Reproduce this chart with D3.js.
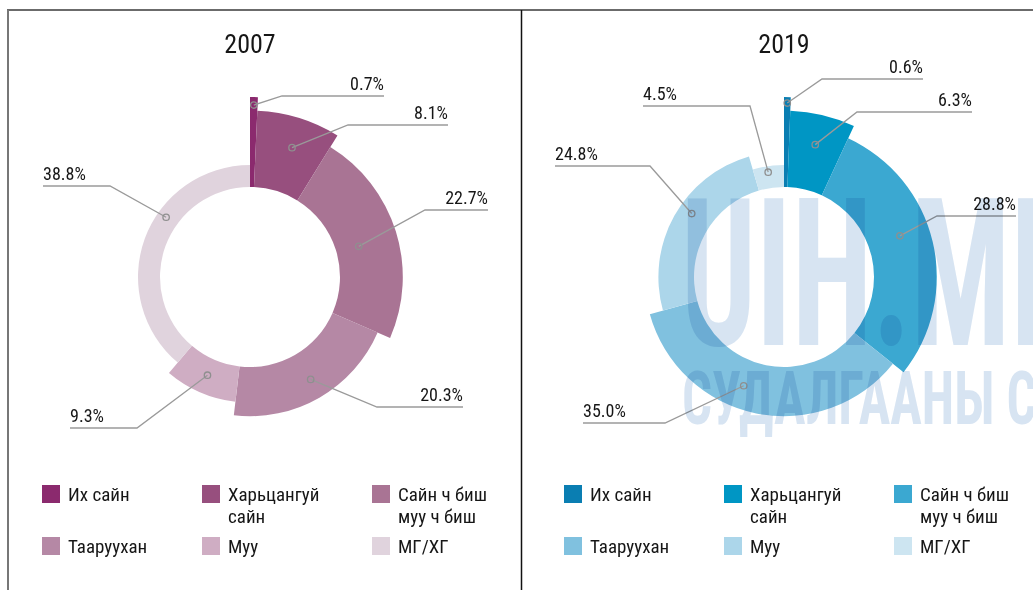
<!DOCTYPE html>
<html>
<head>
<meta charset="utf-8">
<script src="https://cdn.jsdelivr.net/npm/d3@7"></script>
<style>
  html, body { margin: 0; padding: 0; background: #fff; }
  svg { display: block; }
  text { font-family: "Liberation Sans Narrow", "Roboto Condensed", "Arial Narrow", "Liberation Sans", sans-serif; fill: #161616; }
</style>
</head>
<body>
<svg id="chart" width="1033" height="590"></svg>
<script>
// ---- data ----
const categories = ["Их сайн", "Харьцангуй сайн", "Сайн ч биш муу ч биш", "Таарууxан", "Муу", "МГ/ХГ"];
const legendLines = [["Их сайн"], ["Харьцангуй", "сайн"], ["Сайн ч биш", "муу ч биш"], ["Таарууxан"], ["Муу"], ["МГ/ХГ"]];
const years = ["2007", "2019"];
const values2007 = [0.7, 8.1, 22.7, 20.3, 9.3, 38.8];
const values2019 = [0.6, 6.3, 28.8, 35.0, 24.8, 4.5];
const labels2007 = ["0.7%", "8.1%", "22.7%", "20.3%", "9.3%", "38.8%"];
const labels2019 = ["0.6%", "6.3%", "28.8%", "35.0%", "24.8%", "4.5%"];
const watermarkLines = ["UIH.MN", "СУДАЛГААНЫ СЕКТОР"];

// ---- styles ----
const colors2007 = ["#8b2a6e", "#974f7e", "#a97494", "#b588a5", "#cfadc3", "#e0d3dd"];
const colors2019 = ["#0a7eb2", "#0096c4", "#3ba8d1", "#80c1df", "#acd6ea", "#cde5f1"];

// ---- label layout (relative to donut centre) ----
const anchorR2007 = [172, 136, 113, 119, 107, 103];
const anchorT2007 = [0.5, 0.53, 0.52, 0.49, 0.5, 0.61];
const elbow2007 = [[32, -181], [98, -152], [175, -67], [127, 130], [-113, 151], [-140, -91]];
const lineEnd2007 = [134, 198, 238, 213, -180, -207];

const anchorR2019 = [174, 136, 123, 116, 112, 106];
const anchorT2019 = [0.5, 0.49, 0.44, 0.57, 0.56, 0.47];
const elbow2019 = [[38, -198], [73, -165], [153, -61], [-119, 146], [-134, -111], [-34, -171]];
const lineEnd2019 = [139, 188, 232, -201, -229, -141];

const svg = d3.select("#chart");

// frame
svg.append("line").attr("x1", 7).attr("x2", 1033).attr("y1", 10).attr("y2", 10)
  .attr("stroke", "#3a3a3a").attr("stroke-width", 1.5);
svg.append("line").attr("x1", 8).attr("x2", 8).attr("y1", 10).attr("y2", 590)
  .attr("stroke", "#777").attr("stroke-width", 2);
svg.append("line").attr("x1", 521.5).attr("x2", 521.5).attr("y1", 10).attr("y2", 590)
  .attr("stroke", "#111").attr("stroke-width", 1.5);

const panels = [
  { year: years[0], values: values2007, labels: labels2007, colors: colors2007, cx: 250, cy: 277, x0: 0,
    anchorR: anchorR2007, anchorT: anchorT2007, elbow: elbow2007, lineEnd: lineEnd2007 },
  { year: years[1], values: values2019, labels: labels2019, colors: colors2019, cx: 784, cy: 277, x0: 522,
    anchorR: anchorR2019, anchorT: anchorT2019, elbow: elbow2019, lineEnd: lineEnd2019 }
];

const innerR = 90;
const outerScale = d3.scaleLinear().domain([0, categories.length - 1]).range([180, 112]);
const pie = d3.pie().sort(null).value(d => d).startAngle(0).endAngle(2 * Math.PI);

panels.forEach(p => {
  const g = svg.append("g").attr("transform", `translate(${p.cx},${p.cy})`);
  const arcs = pie(p.values);
  const arc = d3.arc().innerRadius(innerR).outerRadius((d) => outerScale(d.index));

  g.selectAll("path.slice").data(arcs).enter().append("path")
    .attr("class", "slice")
    .attr("d", arc)
    .attr("fill", (d, i) => p.colors[i]);

  // title
  svg.append("text").attr("x", p.cx).attr("y", 53).attr("text-anchor", "middle")
    .style("font-size", "26px").text(p.year);

  // leaders + labels
  arcs.forEach((d, i) => {
    const a = d.startAngle + (d.endAngle - d.startAngle) * p.anchorT[i];
    const r = p.anchorR[i];
    const ax = r * Math.sin(a), ay = -r * Math.cos(a);
    const [ex, ey] = p.elbow[i];
    const endX = p.lineEnd[i];
    g.append("polyline")
      .attr("points", `${ax},${ay} ${ex},${ey} ${endX},${ey}`)
      .attr("fill", "none").attr("stroke", "#9a9a9a").attr("stroke-width", 1.3);
    g.append("circle").attr("cx", ax).attr("cy", ay).attr("r", 3.2)
      .attr("fill", "none").attr("stroke", "#8f8f8f").attr("stroke-width", 1.3);
    const right = endX > 0;
    g.append("text").attr("x", endX).attr("y", ey - 6)
      .attr("text-anchor", right ? "end" : "start")
      .style("font-size", "18px").text(p.labels[i]);
  });

  // legend
  const colX = [42, 202, 372];
  const rowY = [485, 537];
  categories.forEach((c, i) => {
    const x = p.x0 + colX[i % 3], y = rowY[Math.floor(i / 3)];
    svg.append("rect").attr("x", x).attr("y", y).attr("width", 18).attr("height", 18)
      .attr("fill", p.colors[i]);
    const t = svg.append("text").attr("x", x + 26).attr("y", y + 16)
      .style("font-size", "19px");
    legendLines[i].forEach((ln, k) => {
      t.append("tspan").attr("x", x + 26).attr("dy", k === 0 ? 0 : 22).text(ln);
    });
  });
});

// watermark (drawn over the right panel, multiply blend)
const wm = svg.append("g").style("mix-blend-mode", "multiply");
wm.append("text").attr("x", 681).attr("y", 345)
  .attr("textLength", 410).attr("lengthAdjust", "spacingAndGlyphs")
  .style("font-size", "206px").style("font-weight", "bold").style("fill", "#d7e4f2")
  .text(watermarkLines[0]);
wm.append("text").attr("x", 682).attr("y", 424)
  .attr("textLength", 500).attr("lengthAdjust", "spacingAndGlyphs")
  .style("font-size", "74px").style("font-weight", "bold").style("fill", "#d7e4f2")
  .text(watermarkLines[1]);
</script>
</body>
</html>
